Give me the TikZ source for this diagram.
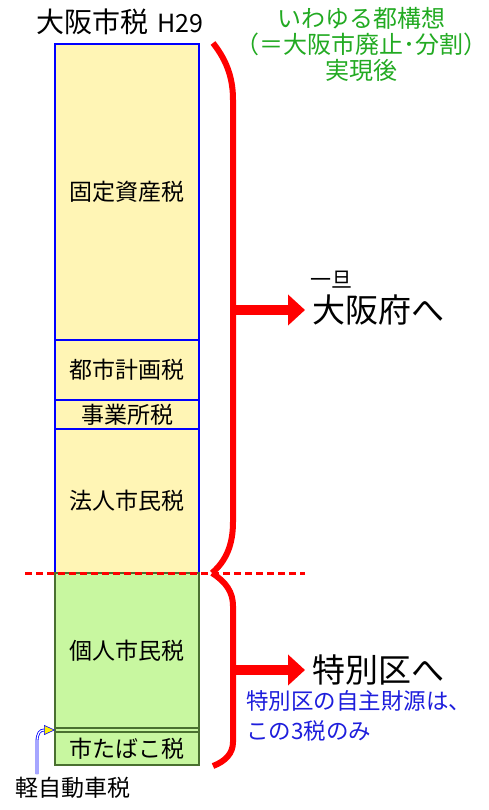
\documentclass[tikz,border=0pt]{standalone}
\usepackage{fontspec}
\setmainfont{Noto Sans CJK JP}
\usetikzlibrary{arrows.meta,positioning,calc}
\definecolor{TY}{HTML}{FFF5B5}
\definecolor{TG}{HTML}{C8F7A0}
\definecolor{TGD}{HTML}{4A7030}
\definecolor{TR}{HTML}{FF0000}
\definecolor{TGT}{HTML}{22AA22}
\definecolor{TB}{HTML}{1E1EDC}
\tikzset{
  yseg/.style={draw=blue, fill=TY, line width=1.5pt, minimum width=144pt,
               inner sep=0pt, outer sep=0pt, font=\fontsize{23}{26}\selectfont},
  gseg/.style={draw=TGD, fill=TG, line width=1.5pt, minimum width=144pt,
               inner sep=0pt, outer sep=0pt, font=\fontsize{23}{26}\selectfont},
  brace/.style={draw=TR, line width=6pt},
  bigarrow/.style={draw=TR, line width=10pt, -{Triangle[length=17pt,width=30pt]}},
}

\begin{document}
\begin{tikzpicture}[x=1pt,y=-1pt]
  \useasboundingbox (0,0) rectangle (488,810);

  % tax column
  \node[yseg, minimum height=296pt] (kotei) at (127,192) {固定資産税};
  \node[yseg, minimum height=60pt, below=0pt of kotei] (toshi) {都市計画税};
  \node[yseg, minimum height=29pt, below=0pt of toshi] (jigyo) {事業所税};
  \node[yseg, minimum height=144pt, below=0pt of jigyo] (hojin) {法人市民税};
  \node[gseg, minimum height=155pt, below=0pt of hojin] (kojin) {個人市民税};
  \node[gseg, minimum height=4pt, below=0pt of kojin] (kei) {};
  \node[gseg, minimum height=33pt, below=0pt of kei] (tabako) {市たばこ税};

  \draw[TR, line width=3pt, dash pattern=on 7pt off 4pt]
    (hojin.south west) ++(-30,0) -- ++(280,0);

  % titles
  \node[anchor=west, inner sep=0pt] (title) at (36,22)
    {\fontsize{28}{30}\selectfont 大阪市税\hspace{9pt}\fontsize{25}{26}\selectfont H29};
  \node[align=center, text=TGT, font=\fontsize{24}{26}\selectfont] (plan) at (361,44)
    {いわゆる都構想\\（＝大阪市廃止･分割）\\実現後};

  % braces
  \draw[brace] (213,43) .. controls (228,62) and (233,80) .. (233,100)
    -- (233,522) .. controls (233,545) and (226,561) .. (212,573);
  \draw[brace] (212,573) .. controls (226,582) and (233,592) .. (233,606)
    -- (233,742) .. controls (233,753) and (226,761) .. (213,766);

  % destinations
  \coordinate (ub) at (233,310);
  \coordinate (lb) at (233,670);
  \node[anchor=west, inner sep=7pt, font=\fontsize{33}{36}\selectfont] (fu) at (305,310) {大阪府へ};
  \node[font=\fontsize{21}{24}\selectfont, inner sep=0pt] (ittan) at (331,280) {一旦};
  \node[anchor=west, inner sep=7pt, font=\fontsize{33}{36}\selectfont] (ku) at (305,670) {特別区へ};
  \node[anchor=north west, align=left, inner sep=0pt, text=TB,
        font=\fontsize{22.5}{30}\selectfont] (own) at (246,690)
    {特別区の自主財源は、\\この3税のみ};
  \draw[bigarrow] (ub) -- (fu.west);
  \draw[bigarrow] (lb) -- (ku.west);

  % light vehicle tax
  \node[anchor=west, inner sep=0pt, font=\fontsize{23}{26}\selectfont] (keilabel) at (15,788) {軽自動車税};
  \draw[blue, line width=0.8pt, double=white, double distance=1.2pt,
        -{Triangle[length=11pt, width=10pt, fill=yellow, line width=0.6pt]}]
    ($(keilabel.north west)+(22,-3)$) -- (37,742)
    .. controls (37,733) and (40,730) .. (kei.west);
\end{tikzpicture}
\end{document}
